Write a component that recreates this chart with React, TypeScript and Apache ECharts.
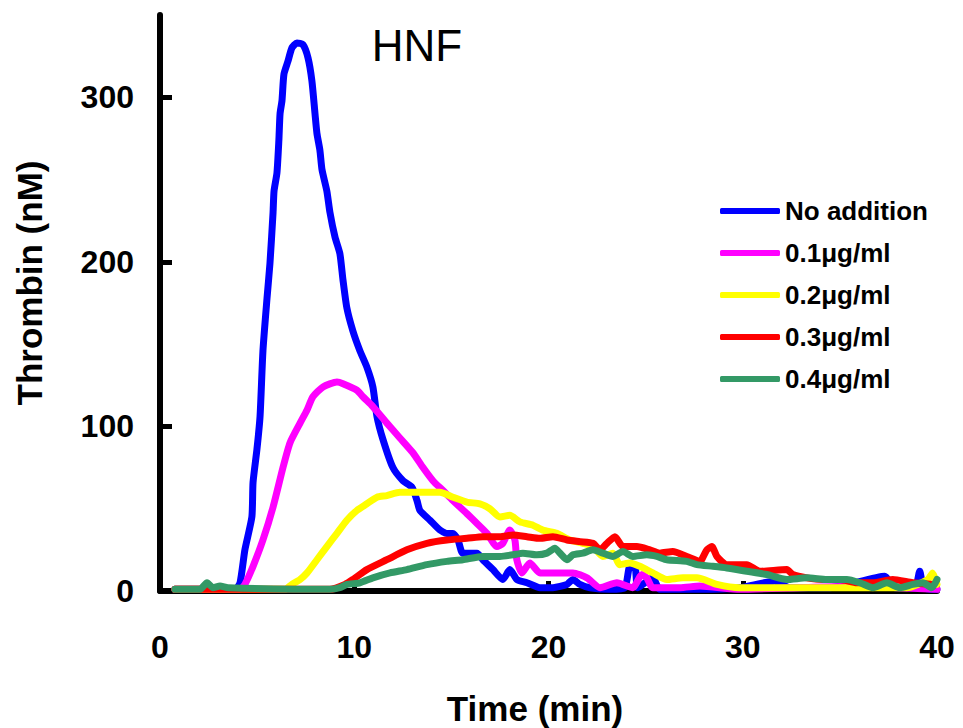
import React, { useEffect, useRef } from "react";
import * as echarts from "echarts";

// Time (min), Thrombin (nM) pairs
const noAddition: [number, number][] = [
  [0.77, 1], [3.86, 1], [4.12, 5], [4.37, 25], [4.73, 45], [4.79, 66], [4.99, 86], [5.15, 106],
  [5.3, 146], [5.51, 178], [5.66, 199], [5.82, 230], [5.87, 243], [6.02, 254], [6.12, 274],
  [6.18, 290], [6.28, 298], [6.38, 314], [6.59, 322], [6.79, 330], [7.05, 333], [7.36, 332],
  [7.62, 324], [7.82, 310], [7.98, 290], [8.08, 278], [8.23, 268], [8.34, 256], [8.59, 243],
  [8.75, 230], [9.01, 215], [9.26, 205], [9.42, 189], [9.62, 172], [9.93, 158], [10.29, 146],
  [10.65, 136], [10.96, 124], [11.17, 106], [11.48, 92], [11.99, 75], [12.51, 67], [12.97, 63],
  [13.23, 55], [13.38, 49], [13.9, 43], [14.41, 37], [14.77, 35], [15.08, 35], [15.34, 31],
  [15.59, 23], [16.32, 23], [16.62, 19], [17.14, 13], [17.65, 7], [18.01, 13], [18.37, 7],
  [18.89, 5], [19.56, 2], [20.23, 2], [20.95, 4], [21.26, 7], [21.62, 4], [22.13, 2], [23.16, 1],
  [23.93, 2], [24.19, 15], [24.45, 15], [24.6, 2], [25.37, 8], [25.73, 1], [27.79, 1], [29.85, 2],
  [31.65, 6], [32.42, 2], [34.48, 2], [35.41, 4], [37.31, 9], [37.83, 2], [38.86, 2], [39.11, 12],
  [39.32, 2], [40, 1],
];
const hnf01: [number, number][] = [
  [0.77, 1], [4.12, 1], [4.37, 4], [4.79, 15], [5.3, 31], [5.82, 51], [6.33, 75], [6.69, 90],
  [7.21, 102], [7.57, 110], [7.87, 118], [8.39, 124], [9.11, 127], [9.42, 126], [10.14, 122],
  [10.45, 118], [10.96, 112], [11.68, 102], [12.35, 93], [13.02, 84], [13.54, 75], [14.05, 67],
  [14.57, 61], [15.08, 55], [15.8, 47], [16.32, 41], [16.83, 35], [17.34, 27], [17.65, 29],
  [18.01, 37], [18.27, 31], [18.37, 19], [18.63, 11], [19.04, 17], [19.56, 11], [20.23, 11],
  [21.26, 11], [21.98, 8], [22.65, 2], [23.52, 5], [24.34, 2], [24.81, 10], [25.06, 8], [25.37, 2],
  [26.76, 2], [27.79, 3], [29.85, 1], [32.94, 2], [36.54, 3], [38.09, 2], [40, 1],
];
const hnf02: [number, number][] = [
  [0.77, 1], [6.43, 1], [6.79, 4], [7.21, 7], [7.57, 11], [8.08, 19], [8.59, 27], [9.11, 35],
  [9.62, 43], [10.14, 49], [10.65, 53], [11.17, 57], [11.68, 58], [12.35, 60], [13.02, 60],
  [14.41, 60], [15.08, 57], [15.8, 54], [16.47, 53], [16.98, 50], [17.5, 45], [18.01, 46],
  [18.53, 42], [19.2, 40], [19.71, 37], [20.43, 35], [21.1, 31], [21.77, 29], [22.29, 27],
  [22.8, 21], [23.31, 23], [23.67, 16], [24.19, 17], [24.7, 15], [25.37, 11], [26.09, 7],
  [26.92, 8], [27.64, 8], [28.67, 4], [29.85, 2], [31.55, 2], [33.3, 2], [35.0, 2], [36.7, 2],
  [38.45, 2], [39.53, 7], [39.78, 11], [40, 4],
];
const hnf03: [number, number][] = [
  [0.77, 1], [8.75, 1], [9.52, 4], [9.93, 7], [10.65, 13], [11.68, 19], [12.71, 25], [13.74, 29],
  [14.77, 31], [15.8, 32], [16.62, 33], [17.5, 33], [18.17, 34], [18.89, 33], [19.56, 32],
  [20.23, 33], [20.95, 31], [21.62, 30], [22.29, 29], [22.65, 25], [23.01, 29], [23.42, 33],
  [23.83, 27], [24.55, 27], [25.22, 25], [25.73, 23], [26.4, 24], [27.12, 21], [27.79, 18],
  [28.15, 25], [28.41, 27], [28.67, 21], [29.18, 16], [30.21, 16], [30.88, 12], [32.27, 13],
  [32.58, 10], [33.3, 8], [34.12, 7], [35.0, 7], [35.87, 5], [36.7, 5], [37.72, 7], [38.75, 5],
  [39.78, 4],
];
const hnf04: [number, number][] = [
  [0.77, 1], [2.06, 1], [2.42, 5], [2.73, 2], [3.09, 3], [3.5, 2], [8.75, 1], [9.26, 2], [9.62, 4],
  [10.29, 5], [10.96, 8], [11.84, 11], [12.71, 13], [13.74, 16], [14.77, 18], [15.59, 19],
  [16.62, 21], [17.5, 21], [18.17, 22], [18.68, 23], [19.4, 22], [19.92, 23], [20.33, 26],
  [20.59, 23], [20.95, 19], [21.26, 22], [21.77, 23], [22.29, 25], [22.8, 23], [23.31, 21],
  [23.83, 24], [24.34, 21], [25.06, 22], [25.58, 21], [26.09, 19], [27.12, 18], [27.64, 16],
  [28.46, 15], [29.18, 14], [30.21, 12], [31.24, 10], [32.27, 7], [33.3, 8], [34.33, 7],
  [35.36, 7], [36.03, 5], [36.7, 2], [37.42, 5], [38.09, 2], [38.75, 4], [39.27, 5], [39.73, 2],
  [40, 7],
];

const seriesNames = ["No addition", "0.1μg/ml", "0.2μg/ml", "0.3μg/ml", "0.4μg/ml"];
const seriesColors = ["#0000FF", "#FF00FF", "#FFFF00", "#FF0000", "#339966"];
const seriesData = [noAddition, hnf01, hnf02, hnf03, hnf04];
const yTickValues = [0, 100, 200, 300];
const xTickValues = [0, 10, 20, 30, 40];

const FONT = '"Liberation Sans", Arial, sans-serif';

export default function App() {
  const ref = useRef<HTMLDivElement>(null);
  useEffect(() => {
    if (!ref.current) return;
    const chart = echarts.init(ref.current, undefined, { renderer: "svg" });
    chart.setOption({
      animation: false,
      backgroundColor: "#ffffff",
      grid: { left: 160, right: 26, top: 15, bottom: 137, containLabel: false },
      xAxis: {
        type: "value",
        min: 0,
        max: 40,
        interval: 10,
        axisLine: { show: true, lineStyle: { color: "#000", width: 6, cap: "round" } },
        axisTick: { show: true, inside: true, length: 10, lineStyle: { color: "#000", width: 5 }, customValues: xTickValues },
        axisLabel: { margin: 40, fontSize: 32, fontWeight: "bold", color: "#000", fontFamily: FONT, customValues: xTickValues },
        splitLine: { show: false },
      },
      yAxis: {
        type: "value",
        min: 0,
        max: 350,
        axisLine: { show: true, lineStyle: { color: "#000", width: 6, cap: "round" } },
        axisTick: { show: true, inside: true, length: 12, lineStyle: { color: "#000", width: 5 }, customValues: yTickValues },
        axisLabel: { margin: 26, fontSize: 32, fontWeight: "bold", color: "#000", fontFamily: FONT, customValues: yTickValues },
        splitLine: { show: false },
      },
      legend: {
        orient: "vertical",
        left: 720,
        top: 198,
        padding: 0,
        icon: "roundRect",
        itemWidth: 60,
        itemHeight: 6,
        itemGap: 16,
        data: seriesNames,
        textStyle: { fontSize: 26, fontWeight: "bold", color: "#000", fontFamily: FONT, lineHeight: 26 },
      },
      graphic: [
        {
          type: "text",
          x: 29,
          y: 283,
          rotation: Math.PI / 2,
          style: {
            text: "Thrombin (nM)",
            font: `bold 35px ${FONT}`,
            fill: "#000",
            textAlign: "center",
            textVerticalAlign: "middle",
          },
        },
        {
          type: "text",
          x: 535,
          y: 708,
          style: {
            text: "Time (min)",
            font: `bold 35px ${FONT}`,
            fill: "#000",
            textAlign: "center",
            textVerticalAlign: "middle",
          },
        },
        {
          type: "text",
          x: 417,
          y: 45,
          style: {
            text: "HNF",
            font: `44px ${FONT}`,
            fill: "#000",
            textAlign: "center",
            textVerticalAlign: "middle",
          },
        },
      ],
      series: seriesData.map((d, i) => ({
        name: seriesNames[i],
        type: "line",
        data: d,
        symbol: "none",
        smooth: 0.2,
        color: seriesColors[i],
        lineStyle: { color: seriesColors[i], width: 7, cap: "round", join: "round" },
        clip: false,
        z: 2 + i,
      })),
    });
    return () => chart.dispose();
  }, []);
  return (
    <div
      ref={ref}
      style={{ position: "fixed", left: 0, top: 0, width: 963, height: 728, background: "#fff" }}
    />
  );
}
